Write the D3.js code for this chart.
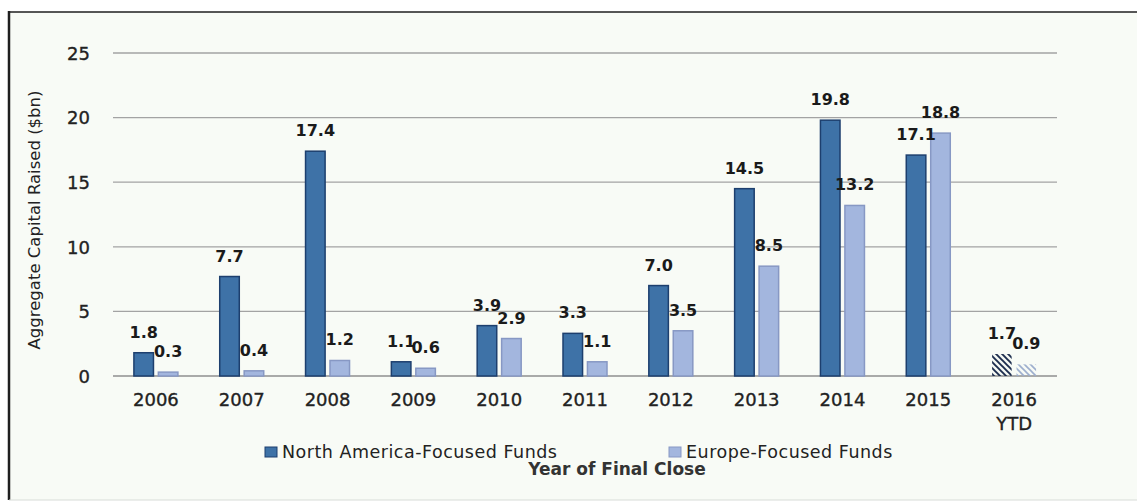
<!DOCTYPE html>
<html>
<head>
<meta charset="utf-8">
<script src="https://cdn.jsdelivr.net/npm/d3@7"></script>
<style>
  html, body { margin: 0; padding: 0; background: #ffffff; }
  svg { display: block; }
  text { font-family: "DejaVu Sans", sans-serif; }
</style>
</head>
<body>
<svg id="chart" width="1137" height="503"></svg>
<script>
// Fundraising by year of final close ($bn)
const years = ["2006", "2007", "2008", "2009", "2010", "2011", "2012", "2013", "2014", "2015", "2016 YTD"];
const northAmerica = [1.8, 7.7, 17.4, 1.1, 3.9, 3.3, 7.0, 14.5, 19.8, 17.1, 1.7];
const europe = [0.3, 0.4, 1.2, 0.6, 2.9, 1.1, 3.5, 8.5, 13.2, 18.8, 0.9];
const seriesNames = ["North America-Focused Funds", "Europe-Focused Funds"];
const yTicks = [0, 5, 10, 15, 20, 25];
const partialYear = "2016 YTD";

const svg = d3.select("#chart");

// outer frame with a faint tinted panel
svg.append("rect")
  .attr("x", 9).attr("y", 12).attr("width", 1140).attr("height", 488)
  .attr("fill", "#f8fbf6").attr("stroke", "none");
svg.append("line").attr("x1", 9).attr("x2", 9).attr("y1", 11).attr("y2", 500)
  .attr("stroke", "#1f1f1f").attr("stroke-width", 2.5);
svg.append("line").attr("x1", 8).attr("x2", 1137).attr("y1", 12).attr("y2", 12)
  .attr("stroke", "#1f1f1f").attr("stroke-width", 1.6);
svg.append("line").attr("x1", 9).attr("x2", 1137).attr("y1", 500).attr("y2", 500)
  .attr("stroke", "#d8dcd8").attr("stroke-width", 1);

// hatch patterns for the partial year
const defs = svg.append("defs");
function hatch(id, color, width) {
  const p = defs.append("pattern")
    .attr("id", id).attr("patternUnits", "userSpaceOnUse")
    .attr("width", 6).attr("height", 6);
  p.append("path")
    .attr("d", "M0,0 L6,6 M-3,3 L3,9 M3,-3 L9,3")
    .attr("stroke", color).attr("stroke-width", width);
}
hatch("hatchNA", "#17284a", 1.9);
hatch("hatchEU", "#9aaccc", 1.6);

const plot = { left: 113, right: 1057, top: 53, bottom: 376 };

const x0 = d3.scaleBand().domain(years).range([plot.left, plot.right]).padding(0);
const x1 = d3.scaleBand().domain(seriesNames).range([-22, 22]).paddingInner(0.2);
const y = d3.scaleLinear().domain([0, 25]).range([plot.bottom, plot.top]);

// gridlines
svg.append("g").selectAll("line").data(yTicks).join("line")
  .attr("x1", plot.left).attr("x2", plot.right)
  .attr("y1", d => y(d)).attr("y2", d => y(d))
  .attr("stroke", d => d === 0 ? "#8f8f8f" : "#a3a3a3")
  .attr("stroke-width", 1.3);

// y axis labels
const yAxis = d3.axisLeft(y).tickValues(yTicks).tickSize(0).tickPadding(0);
const gy = svg.append("g").attr("transform", "translate(90,0)").call(yAxis);
gy.select(".domain").remove();
gy.selectAll("text")
  .attr("font-family", "DejaVu Sans").attr("font-size", 18)
  .attr("fill", "#222").attr("stroke", "#222").attr("stroke-width", 0.35)
  .attr("dy", "0.35em");

// x axis labels (two-line for the partial year)
const xAxis = d3.axisBottom(x0).tickSize(0).tickFormat("");
const gx = svg.append("g").attr("transform", `translate(0,${plot.bottom})`).call(xAxis);
gx.select(".domain").remove();
gx.selectAll(".tick").each(function (d) {
  const t = d3.select(this).append("text")
    .attr("text-anchor", "middle")
    .attr("font-family", "DejaVu Sans").attr("font-size", 18)
    .attr("fill", "#222").attr("stroke", "#222").attr("stroke-width", 0.35);
  const parts = d.split(" ");
  parts.forEach((s, i) => {
    t.append("tspan").attr("x", 0).attr("y", 30 + i * 24).text(s);
  });
});

// bars
const rows = years.map((yr, i) => ({
  year: yr,
  values: [
    { key: seriesNames[0], value: northAmerica[i] },
    { key: seriesNames[1], value: europe[i] }
  ]
}));

const fills = { [seriesNames[0]]: "#3e72a7", [seriesNames[1]]: "#a3b6de" };
const strokes = { [seriesNames[0]]: "#1d3f6e", [seriesNames[1]]: "#8798c4" };
const hatches = { [seriesNames[0]]: "url(#hatchNA)", [seriesNames[1]]: "url(#hatchEU)" };

const groups = svg.append("g").selectAll("g").data(rows).join("g")
  .attr("transform", d => `translate(${x0(d.year) + x0.bandwidth() / 2},0)`);

groups.selectAll("rect").data(d => d.values.map(v => ({ ...v, year: d.year }))).join("rect")
  .attr("x", d => x1(d.key))
  .attr("width", x1.bandwidth())
  .attr("y", d => y(d.value))
  .attr("height", d => y(0) - y(d.value))
  .attr("fill", d => d.year === partialYear ? hatches[d.key] : fills[d.key])
  .attr("stroke", d => d.year === partialYear ? "none" : strokes[d.key])
  .attr("stroke-width", 1.5);

// value labels
groups.selectAll("text.val").data(d => d.values.map(v => ({ ...v, year: d.year }))).join("text")
  .attr("class", "val")
  .attr("x", d => x1(d.key) + x1.bandwidth() / 2)
  .attr("y", d => y(d.value) - 15)
  .attr("text-anchor", "middle")
  .attr("font-family", "DejaVu Sans").attr("font-weight", "bold")
  .attr("font-size", 16).attr("fill", "#1a1a1a")
  .text(d => d.value.toFixed(1));

// legend
const legendItems = [
  { name: seriesNames[0], x: 265 },
  { name: seriesNames[1], x: 669 }
];
const lg = svg.append("g").selectAll("g").data(legendItems).join("g")
  .attr("transform", d => `translate(${d.x},0)`);
lg.append("rect").attr("x", 0).attr("y", 447).attr("width", 12).attr("height", 10)
  .attr("fill", d => fills[d.name]).attr("stroke", d => strokes[d.name]).attr("stroke-width", 1);
lg.append("text").attr("x", 17).attr("y", 458)
  .attr("font-family", "DejaVu Sans").attr("font-size", 17.5)
  .attr("letter-spacing", 0.5)
  .attr("fill", "#222").text(d => d.name);

// axis titles
svg.append("text")
  .attr("x", 617).attr("y", 475).attr("text-anchor", "middle")
  .attr("font-family", "DejaVu Sans").attr("font-weight", "bold").attr("font-size", 17)
  .attr("fill", "#333").text("Year of Final Close");

svg.append("text")
  .attr("transform", "translate(40,220) rotate(-90)")
  .attr("text-anchor", "middle")
  .attr("font-family", "DejaVu Sans").attr("font-size", 16.5)
  .attr("fill", "#222").text("Aggregate Capital Raised ($bn)");
</script>
</body>
</html>
